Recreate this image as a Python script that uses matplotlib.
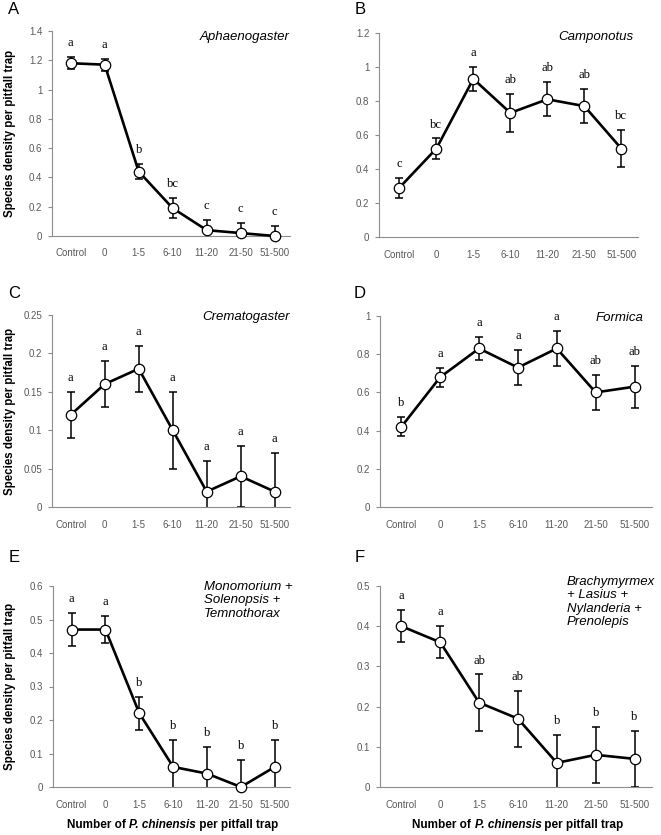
import matplotlib
matplotlib.use('Agg')
import matplotlib.pyplot as plt

groups = ['Control', '0', '1-5', '6-10', '11-20', '21-50', '51-500']

# panel A - Aphaenogaster
a_mean = [1.18, 1.17, 0.44, 0.19, 0.04, 0.02, 0.0]
a_err = [0.04, 0.04, 0.05, 0.07, 0.07, 0.07, 0.07]
a_let = ['a', 'a', 'b', 'bc', 'c', 'c', 'c']

# panel B - Camponotus
b_mean = [0.29, 0.52, 0.93, 0.73, 0.81, 0.77, 0.52]
b_err = [0.06, 0.06, 0.07, 0.11, 0.10, 0.10, 0.11]
b_let = ['c', 'bc', 'a', 'ab', 'ab', 'ab', 'bc']

# panel C - Crematogaster
c_mean = [0.12, 0.16, 0.18, 0.10, 0.02, 0.04, 0.02]
c_err = [0.03, 0.03, 0.03, 0.05, 0.04, 0.04, 0.05]
c_let = ['a', 'a', 'a', 'a', 'a', 'a', 'a']

# panel D - Formica
d_mean = [0.42, 0.68, 0.83, 0.73, 0.83, 0.60, 0.63]
d_err = [0.05, 0.05, 0.06, 0.09, 0.09, 0.09, 0.11]
d_let = ['b', 'a', 'a', 'a', 'a', 'ab', 'ab']

# panel E - Monomorium + Solenopsis + Temnothorax
e_mean = [0.47, 0.47, 0.22, 0.06, 0.04, 0.0, 0.06]
e_err = [0.05, 0.04, 0.05, 0.08, 0.08, 0.08, 0.08]
e_let = ['a', 'a', 'b', 'b', 'b', 'b', 'b']

# panel F - Brachymyrmex + Lasius + Nylanderia + Prenolepis
f_mean = [0.40, 0.36, 0.21, 0.17, 0.06, 0.08, 0.07]
f_err = [0.04, 0.04, 0.07, 0.07, 0.07, 0.07, 0.07]
f_let = ['a', 'a', 'ab', 'ab', 'b', 'b', 'b']

W, H = 661, 835
fig = plt.figure(figsize=(W / 100, H / 100), dpi=100)

SANS = 'Liberation Sans'
SERIF = 'Liberation Serif'
GREY = '#595959'

panels = [
    # letter, mean, err, letters, genus, ymax, ystep, box(px: left, top, right, bottom), letter pos, genus pos, genus align
    ('A', a_mean, a_err, a_let, 'Aphaenogaster', 1.4, 0.2, (52, 31, 290, 236), (14, 10), (290, 37), 'right'),
    ('B', b_mean, b_err, b_let, 'Camponotus', 1.2, 0.2, (379, 33, 638, 237), (360, 10), (633, 37), 'right'),
    ('C', c_mean, c_err, c_let, 'Crematogaster', 0.25, 0.05, (52, 315, 290, 507), (14, 294), (290, 317), 'right'),
    ('D', d_mean, d_err, d_let, 'Formica', 1.0, 0.2, (380, 316, 652, 507), (360, 294), (643, 318), 'right'),
    ('E', e_mean, e_err, e_let, 'Monomorium +\nSolenopsis +\nTemnothorax', 0.6, 0.1, (53, 586, 290, 787), (14, 557), (204, 581), 'left'),
    ('F', f_mean, f_err, f_let, 'Brachymyrmex\n+ Lasius +\nNylanderia +\nPrenolepis', 0.5, 0.1, (380, 586, 652, 787), (360, 557), (567, 576), 'left'),
]

x = list(range(len(groups)))

for (lab, mean, err, lets, genus, ymax, ystep, box, lpos, gpos, galign) in panels:
    l, t, r, b = box
    ax = fig.add_axes([l / W, 1 - b / H, (r - l) / W, (b - t) / H])
    ax.errorbar(x, mean, yerr=err, fmt='none', ecolor='black', elinewidth=1.1,
                capsize=3, capthick=1.1, zorder=2)
    ax.plot(x, mean, color='black', lw=1.9, marker='o', ms=7.5,
            mfc='white', mec='black', mew=0.9, zorder=3, clip_on=False)
    for xi, m, e, s in zip(x, mean, err, lets):
        ax.annotate(s, (xi, m + e), xytext=(0, 10), textcoords='offset points',
                    ha='center', va='center', fontsize=9, family=SERIF)
    ax.set_xlim(-0.55, 6.45)
    ax.set_ylim(0, ymax)
    n = int(round(ymax / ystep))
    yt = [round(i * ystep, 3) for i in range(n + 1)]
    ax.set_yticks(yt)
    ax.set_yticklabels(['{:g}'.format(v) for v in yt])
    ax.set_xticks(x)
    ax.set_xticklabels(groups)
    for sp in ['top', 'right']:
        ax.spines[sp].set_visible(False)
    for sp in ['left', 'bottom']:
        ax.spines[sp].set_color('#8c8c8c')
        ax.spines[sp].set_linewidth(0.8)
    ax.tick_params(axis='y', length=3, width=0.8, color='#8c8c8c', pad=4,
                   labelsize=7, labelcolor=GREY)
    ax.tick_params(axis='x', length=0, pad=9, labelsize=7, labelcolor=GREY)
    for tl in ax.get_xticklabels() + ax.get_yticklabels():
        tl.set_family(SANS)
    fig.text(lpos[0] / W, 1 - lpos[1] / H, lab, fontsize=12, family=SANS,
             ha='center', va='center')
    fig.text(gpos[0] / W, 1 - gpos[1] / H, genus, fontsize=9.5, family=SANS,
             style='italic', ha=galign, va='center' if '\n' not in genus else 'top',
             linespacing=1.15)
    if lab in ('A', 'C', 'E'):
        fig.text(10 / W, 1 - ((t + b) / 2) / H, 'Species density per pitfall trap',
                 rotation=90, fontsize=8.3, fontweight='bold', family=SANS,
                 ha='center', va='center')

# x axis title made from pieces (bold + bold italic)
fig.canvas.draw()
renderer = fig.canvas.get_renderer()
pieces = [('Number of ', 'normal'), ('P. chinensis', 'italic'), (' per pitfall trap', 'normal')]
for cx in [(67 + 278) / 2, (380 + 652) / 2 + 2]:
    texts = []
    xpos = 0
    for s, st in pieces:
        tx = fig.text(xpos, 1 - 825 / H, s, fontsize=8.5, fontweight='bold', style=st,
                      family=SANS, ha='left', va='center')
        bb = tx.get_window_extent(renderer)
        xpos += bb.width / W
        texts.append(tx)
    total = xpos
    start = cx / W - total / 2
    for tx in texts:
        px, py = tx.get_position()
        tx.set_position((px + start, py))

fig.savefig('out.png', dpi=100)
